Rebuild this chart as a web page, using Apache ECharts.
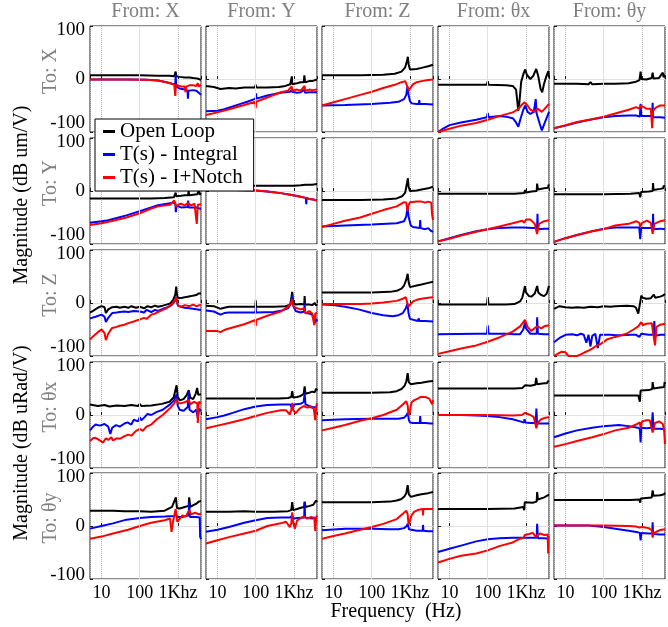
<!DOCTYPE html>
<html><head><meta charset="utf-8">
<script src="https://cdn.jsdelivr.net/npm/echarts@6/dist/echarts.min.js"></script>
<style>html,body{margin:0;padding:0;background:#fff}#c{width:668px;height:627px}</style>
</head><body><div id="c"></div><script>
// ---------- labels ----------
const inputs = ['X','Y','Z','θx','θy'];
const outputs = ['X','Y','Z','θx','θy'];
const xTickValues = [10, 100, 1000];
const xTickLabels = ['10', '100', '1Khz'];
const yTickValues = [-100, 0, 100];
const seriesNames = ['Open Loop', 'T(s) - Integral', 'T(s) - I+Notch'];

// ---------- data: [frequency Hz, magnitude dB], one list per "From" column ----------
// Output X
const openLoopToX = [
 [[5,7],[20,7],[100,7],[300,6],[600,6],[800,5],[850,6],[870,14],[900,5],[1100,4],[1500,3],[2000,3],[2500,2],[3200,1],[3800,-1],[4000,-2]],
 [[5,-13],[8,-15],[12,-19],[20,-17],[30,-18],[50,-16],[95,-16],[100,-11],[105,-16],[200,-16],[400,-15],[600,-13],[800,-10],[860,-9],[880,5],[900,-10],[1200,-8],[1500,-6],[1800,-6],[1870,7],[1950,-6],[2500,-4],[3000,-4],[4000,-1]],
 [[5,7],[50,7],[200,8],[400,10],[600,14],[750,22],[840,35],[880,42],[920,28],[1000,18],[1100,16],[1500,19],[2000,21],[3000,24],[4000,27]],
 [[5,-11],[50,-11],[95,-11],[100,-4],[105,-11],[300,-12],[450,-13],[550,-20],[630,-60],[670,-45],[750,-5],[880,12],[960,18],[1050,8],[1300,0],[1550,6],[1850,19],[2100,5],[2400,-18],[2650,-25],[2950,-10],[3400,5],[3850,15],[4000,3]],
 [[5,-9],[20,-9],[40,-10],[45,-6],[50,-10],[100,-9],[200,-9],[450,-8],[700,-5],[860,-2],[920,14],[960,0],[1300,-1],[1800,2],[1900,12],[2000,1],[2800,2],[3500,12],[3700,3],[4000,8]]
];
const integralToX = [
 [[5,-1],[50,-1],[150,-1.5],[300,-3],[500,-6],[700,-9],[850,-10],[870,8],[900,-14],[1100,-18],[1500,-20],[1780,-22],[1820,-37],[1870,-22],[2500,-21],[3000,-22],[3500,-26],[4000,-30]],
 [[5,-61],[10,-60],[15,-57],[25,-52],[40,-47],[60,-43],[100,-37],[102,-27],[104,-37],[200,-31],[450,-26],[800,-24],[880,-20],[900,-24],[1200,-26],[1500,-25],[1900,-20],[1950,-26],[2500,-25],[4000,-25]],
 [[5,-50],[20,-49],[100,-47],[300,-45],[500,-43],[700,-38],[800,-30],[860,-14],[880,-12],[920,-30],[1000,-42],[1100,-46],[1500,-47],[1700,-47],[1750,-40],[1800,-47],[2500,-47],[4000,-48]],
 [[5,-100],[7,-93],[10,-87],[20,-82],[50,-77],[95,-72],[100,-64],[105,-72],[200,-70],[300,-71],[450,-74],[550,-82],[630,-90],[720,-75],[850,-58],[960,-50],[1100,-62],[1300,-66],[1600,-62],[1800,-38],[1900,-65],[2300,-85],[2600,-97],[3000,-85],[4000,-62]],
 [[5,-93],[10,-88],[20,-82],[50,-76],[100,-72],[200,-70],[450,-69],[700,-69],[880,-71],[920,-47],[960,-70],[1300,-70],[1850,-70],[1900,-45],[1950,-72],[3000,-72],[4000,-73]]
];
const notchToX = [
 [[5,-1],[50,-1],[150,-1.5],[300,-3],[500,-6],[700,-9],[800,-11],[850,-32],[880,-12],[1000,-12],[1200,-14],[1500,-14],[1580,-25],[1650,-14],[2000,-12],[2500,-12],[3000,-13],[3300,-8],[3500,-14],[4000,-11]],
 [[5,-68],[10,-63],[20,-57],[50,-49],[98,-43],[100,-55],[102,-43],[200,-35],[450,-25],[700,-22],[870,-14],[900,-22],[1000,-22],[1200,-20],[1500,-22],[1900,-13],[1950,-22],[2500,-20],[3000,-21],[4000,-20]],
 [[5,-50],[10,-44],[20,-38],[50,-30],[100,-24],[200,-17],[400,-11],[600,-6],[750,-4],[820,-6],[880,-17],[930,-22],[1000,-18],[1200,-10],[1500,-6],[2000,-4],[3000,-2],[4000,-1]],
 [[5,-100],[10,-94],[20,-88],[50,-83],[100,-77],[200,-70],[450,-63],[600,-58],[750,-50],[900,-44],[960,-42],[1100,-50],[1300,-58],[1700,-62],[2000,-56],[2600,-62],[3200,-55],[4000,-47]],
 [[5,-93],[10,-87],[20,-81],[50,-76],[100,-71],[200,-65],[450,-58],[700,-53],[850,-56],[920,-50],[1100,-53],[1300,-56],[1700,-56],[1850,-93],[1950,-60],[2300,-54],[3000,-50],[4000,-50]]
];
// Output Y
const openLoopToY = [
 [[5,-14],[50,-14],[200,-14],[450,-13],[780,-12],[870,-3],[900,-10],[1200,-9],[1500,-8],[1850,-8],[1900,2],[1950,-8],[2500,-7],[3200,-6],[3500,1],[3700,-7],[4000,-4]],
 [[5,10],[100,10],[500,10],[1000,10],[1500,11],[2000,12],[2100,14],[2200,12],[3000,12],[4000,13]],
 [[5,-17],[50,-17],[200,-16],[450,-14],[620,-10],[750,-3],[840,16],[880,24],[920,8],[1000,0],[1100,-1],[1500,1],[2000,3],[3000,5],[4000,8]],
 [[5,-5],[100,-5],[500,-5],[900,-4],[950,2],[1000,-3],[1400,-1],[1900,0],[1960,14],[2050,3],[3000,5],[3800,6],[3900,12],[4000,10]],
 [[5,-6],[100,-6],[500,-5],[850,-4],[900,-12],[950,-2],[1500,-1],[1900,0],[1950,15],[2000,2],[3000,4],[3600,5],[3700,10],[4000,8]]
];
const integralToY = [
 [[5,-60],[10,-57],[15,-55],[25,-51],[45,-46],[100,-38],[200,-31],[300,-27],[620,-23],[850,-22],[880,-40],[910,-28],[1200,-31],[1800,-30],[1850,-18],[1900,-31],[3000,-31],[4000,-34]],
 [[5,2],[30,2],[100,1],[200,-1],[450,-4],[800,-7],[1100,-9],[1500,-11],[2050,-13],[2100,-25],[2150,-13],[2500,-15],[3200,-16],[4000,-18]],
 [[5,-67],[20,-65],[100,-63],[450,-61],[700,-57],[800,-48],[860,-30],[880,-27],[930,-50],[1050,-65],[1200,-68],[1800,-70],[1850,-55],[1900,-70],[2500,-72],[3000,-70],[3500,-75],[4000,-77]],
 [[5,-95],[10,-89],[20,-83],[50,-76],[100,-72],[200,-70],[450,-69],[850,-69],[900,-66],[950,-72],[1500,-70],[1950,-70],[2000,-43],[2050,-72],[3000,-71],[4000,-71]],
 [[5,-96],[10,-89],[20,-83],[50,-76],[100,-71],[200,-69],[450,-69],[850,-69],[900,-91],[950,-70],[1500,-70],[1900,-70],[1950,-43],[2000,-72],[3000,-71],[4000,-72]]
];
const notchToY = [
 [[5,-64],[10,-61],[20,-56],[45,-50],[100,-42],[200,-33],[300,-29],[620,-26],[800,-18],[860,-18],[900,-30],[1000,-26],[1200,-24],[1500,-27],[1800,-23],[2200,-27],[2700,-24],[3100,-62],[3300,-26],[4000,-25]],
 [[5,2],[30,2],[100,1],[200,-1],[450,-4],[800,-7],[1100,-9],[1500,-11],[2000,-13],[2500,-15],[3200,-16],[4000,-18]],
 [[5,-68],[10,-62],[20,-56],[50,-50],[100,-43],[200,-36],[450,-29],[700,-21],[800,-22],[860,-38],[900,-28],[1000,-21],[1500,-20],[2000,-20],[2500,-22],[3000,-20],[3600,-22],[3800,-45],[4000,-55]],
 [[5,-95],[10,-90],[20,-84],[50,-77],[100,-72],[200,-67],[450,-61],[800,-56],[900,-60],[1000,-54],[1300,-54],[1700,-62],[1950,-81],[2200,-62],[3000,-57],[4000,-55]],
 [[5,-96],[10,-89],[20,-83],[50,-76],[100,-72],[200,-65],[450,-62],[700,-57],[850,-60],[900,-68],[1000,-60],[1350,-56],[1700,-60],[1900,-81],[2100,-62],[3000,-57],[4000,-55]]
];
// Output Z
const openLoopToZ = [
 [[5,-18],[6,-15],[8,-9],[10,-6],[12,-8],[13,-19],[15,-12],[19,-8],[25,-7],[30,-9],[40,-7],[50,-9],[60,-6],[80,-9],[100,-7],[130,-10],[160,-6],[200,-8],[250,-5],[300,-7],[400,-5],[500,-3],[620,-1],[750,6],[850,16],[900,31],[940,16],[1000,9],[1100,8],[1300,10],[1500,11],[1800,12],[2200,13],[2600,14],[3000,15],[3500,18],[4000,18]],
 [[5,-5],[8,-6],[12,-11],[15,-9],[20,-7],[50,-7],[98,-7],[100,5],[102,-7],[300,-7],[600,-6],[800,-3],[900,21],[950,2],[1100,-3],[1500,-2],[1850,-3],[1900,13],[1950,-3],[2500,-3],[3000,-4],[3500,0],[3800,-5],[4000,-2]],
 [[5,20],[100,20],[300,21],[450,23],[600,27],[700,33],[800,44],[870,55],[930,38],[1000,30],[1100,29],[1500,33],[2000,35],[3000,38],[4000,40]],
 [[5,-3],[95,-3],[100,11],[105,-3],[300,-3],[500,-2],[700,3],[800,10],[880,22],[940,32],[1000,20],[1200,13],[1380,12],[1700,18],[1960,32],[2100,20],[2500,15],[2980,13],[3500,18],[4000,32]],
 [[5,-11],[7,-6],[10,-8],[15,-9],[20,-8],[30,-9],[45,-7],[70,-8],[100,-6],[150,-7],[200,-6],[400,-5],[600,-6],[700,-9],[800,-20],[850,-18],[960,14],[1050,10],[1300,8],[1700,9],[2050,16],[2200,10],[3000,12],[3500,14],[4000,17]]
];
const integralToZ = [
 [[5,-29],[7,-26],[10,-22],[12,-26],[13,-36],[15,-28],[19,-19],[25,-18],[30,-17],[40,-16],[50,-17],[70,-15],[100,-16],[130,-18],[150,-13],[200,-17],[250,-13],[300,-15],[400,-11],[500,-9],[620,-6],[750,-1],[850,5],[900,12],[940,3],[1000,-5],[1200,-7],[1500,-9],[2000,-10],[3000,-12],[4000,-13]],
 [[5,-14],[8,-16],[12,-22],[15,-19],[20,-18],[50,-18],[98,-18],[100,-8],[102,-18],[300,-17],[500,-14],[700,-10],[850,0],[900,15],[950,-5],[1100,-15],[1500,-18],[1850,-16],[1900,0],[1950,-18],[2500,-20],[3000,-22],[3500,-38],[3800,-30],[4000,-35]],
 [[5,-3],[10,-4],[20,-7],[45,-12],[100,-19],[200,-23],[350,-25],[500,-23],[650,-19],[780,-10],[860,-1],[920,-20],[1000,-30],[1100,-33],[1600,-34],[1700,-29],[1750,-34],[2500,-34],[4000,-35]],
 [[5,-59],[50,-58],[95,-58],[100,-42],[105,-58],[300,-58],[500,-59],[700,-59],[850,-50],[940,-37],[1000,-48],[1300,-58],[1900,-58],[1960,-27],[2050,-58],[3000,-59],[4000,-59]],
 [[5,-74],[7,-66],[10,-60],[15,-59],[20,-61],[25,-58],[30,-60],[35,-75],[40,-60],[45,-82],[50,-62],[60,-58],[70,-85],[80,-60],[100,-60],[150,-60],[200,-61],[300,-61],[500,-60],[700,-60],[850,-64],[900,-66],[960,-58],[1500,-60],[2000,-60],[2100,-34],[2200,-62],[3000,-60],[4000,-60]]
];
const notchToZ = [
 [[5,-69],[6,-63],[8,-55],[10,-50],[12,-57],[13,-70],[15,-58],[19,-47],[25,-45],[30,-43],[40,-41],[50,-38],[70,-35],[100,-31],[130,-28],[150,-30],[200,-22],[250,-20],[300,-17],[400,-13],[500,-10],[620,-5],[750,1],[850,6],[900,11],[940,4],[1000,-5],[1200,-7],[1500,-4],[2000,-6],[2500,-3],[3000,-6],[4000,-3]],
 [[5,-53],[10,-53],[12,-55],[15,-51],[20,-48],[50,-40],[98,-32],[100,-44],[102,-32],[200,-24],[450,-16],[700,-7],[850,2],[900,7],[950,-5],[1100,-9],[1500,-12],[1850,-10],[2000,-20],[2500,-15],[3000,-20],[3400,-42],[3600,-20],[4000,-18]],
 [[5,-2],[50,-2],[100,-1],[200,1],[450,4],[650,8],[780,11],[840,10],[900,-7],[950,-9],[1050,-2],[1200,3],[1500,6],[2000,8],[3000,10],[4000,11]],
 [[5,-96],[10,-91],[20,-86],[50,-80],[100,-73],[200,-65],[450,-54],[700,-44],[850,-36],[940,-32],[1100,-45],[1380,-53],[1700,-47],[2000,-44],[2500,-48],[3000,-44],[4000,-42]],
 [[5,-100],[6.5,-95],[8,-92],[10,-93],[12,-100],[20,-100],[25,-97],[28,-100],[32,-93],[40,-90],[50,-86],[60,-82],[80,-78],[120,-69],[200,-64],[390,-58],[600,-50],[800,-44],[960,-36],[1050,-42],[1300,-39],[1800,-38],[2190,-80],[2400,-45],[3000,-41],[4000,-39]]
];
// Output θx
const openLoopToTx = [
 [[5,20],[8,17],[12,19],[16,16],[25,18],[40,17],[60,19],[90,17],[100,21],[110,17],[200,18],[380,21],[600,25],[770,33],[920,56],[980,35],[1100,28],[1400,30],[1700,38],[1910,47],[2100,33],[2500,30],[2900,40],[3170,51],[3400,38],[4000,39]],
 [[5,31],[100,31],[400,31],[700,32],[850,34],[900,45],[950,33],[1200,34],[1500,36],[1800,40],[1900,54],[2000,40],[2500,42],[3000,44],[3500,43],[3800,50],[4000,46]],
 [[5,42],[100,42],[300,43],[450,45],[600,49],[720,55],[800,63],[870,79],[930,62],[1050,58],[1500,60],[2000,61],[3000,63],[4000,64]],
 [[5,50],[100,50],[500,50],[800,51],[900,52],[950,56],[1000,53],[1300,55],[1750,57],[1850,70],[1950,58],[3000,60],[3500,60],[3800,64],[4000,63]],
 [[5,37],[100,37],[500,37],[800,37],[880,25],[920,46],[1000,44],[1500,47],[1850,49],[1900,62],[2000,50],[3000,52],[3800,53],[3900,62],[4000,58]]
];
const integralToTx = [
 [[5,-29],[6,-22],[7,-18],[9,-20],[12,-17],[15,-22],[17,-36],[19,-24],[24,-19],[30,-22],[40,-16],[48,-14],[60,-18],[70,-9],[90,-12],[100,-4],[110,-10],[130,-5],[160,2],[200,0],[280,6],[400,10],[620,20],[800,28],[920,39],[980,18],[1100,10],[1400,8],[1800,15],[1910,45],[2000,10],[2500,5],[3000,10],[3300,-5],[3600,12],[4000,7]],
 [[5,-8],[10,-4],[15,-1],[25,4],[50,11],[100,16],[200,19],[450,20],[800,20],[880,17],[920,10],[1000,20],[1500,21],[1800,25],[1900,42],[2000,20],[2500,17],[3000,15],[4000,14]],
 [[5,-10],[20,-8],[100,-7],[300,-7],[500,-7],[700,-5],[800,-1],[880,4],[940,-10],[1000,-14],[1200,-15],[1800,-15],[1850,-2],[1900,-15],[2500,-15],[3500,-16],[4000,-16]],
 [[5,0],[20,0],[50,-1],[100,-2],[200,-4],[450,-8],[780,-13],[880,-14],[920,-8],[960,-14],[1300,-15],[1800,-15],[1870,12],[1950,-16],[3000,-16],[4000,-16]],
 [[5,-42],[10,-35],[20,-29],[50,-24],[100,-21],[250,-19],[450,-21],[780,-24],[880,-26],[920,-52],[960,-24],[1300,-25],[1800,-24],[1900,5],[2000,-26],[3000,-26],[4000,-27]]
];
const notchToTx = [
 [[5,-49],[6,-44],[7,-43],[9,-48],[11,-52],[13,-44],[15,-47],[18,-42],[20,-48],[25,-44],[30,-45],[40,-40],[50,-37],[60,-39],[80,-30],[100,-26],[120,-30],[150,-22],[200,-18],[280,-8],[400,0],[620,13],[800,22],[920,30],[1000,22],[1200,22],[1600,25],[1910,28],[2100,20],[2600,25],[3200,22],[3300,-15],[3500,25],[4000,22]],
 [[5,-25],[10,-20],[20,-15],[50,-8],[100,-2],[200,4],[450,9],[620,9],[780,1],[850,10],[900,23],[950,10],[1100,3],[1400,12],[1800,17],[2200,14],[2700,15],[3300,12],[3600,-10],[3800,15],[4000,22]],
 [[5,-29],[10,-24],[20,-19],[50,-11],[100,-6],[200,0],[450,10],[650,20],[800,26],[870,18],[920,-1],[980,5],[1100,24],[1300,28],[1600,31],[1900,34],[2500,34],[3200,31],[3600,32],[3800,20],[4000,28]],
 [[5,0],[100,0],[450,-1],[780,0],[850,2],[940,4],[1000,1],[1300,0],[1600,-4],[1870,-25],[2000,-15],[2500,-8],[3200,-5],[4000,-4]],
 [[5,-60],[10,-55],[20,-49],[50,-42],[100,-36],[200,-29],[450,-24],[700,-18],[880,-14],[920,-25],[1000,-12],[1300,-10],[1600,-10],[1900,-33],[2200,-15],[2800,-12],[3500,-17],[3800,-30],[4000,-55]]
];
// Output θy
const openLoopToTy = [
 [[5,29],[10,29],[20,29],[40,28],[70,28],[100,28],[200,27],[450,29],[700,36],[880,54],[940,34],[1100,33],[1500,36],[1900,38],[1960,54],[2100,36],[2600,40],[3000,42],[3500,46],[4000,47]],
 [[5,27],[20,27],[50,28],[100,27],[300,27],[700,28],[850,30],[900,45],[950,30],[1200,32],[1600,35],[1850,36],[1900,46],[2000,36],[2600,38],[3200,40],[3600,37],[3800,48],[4000,45]],
 [[5,45],[100,45],[300,46],[450,48],[600,51],[720,56],[800,62],[870,77],[930,60],[1050,55],[1500,58],[2000,60],[3000,62],[4000,64]],
 [[5,32],[100,32],[500,33],[850,36],[900,30],[930,45],[1000,42],[1500,44],[1900,46],[1960,64],[2050,50],[3000,54],[4000,59]],
 [[5,49],[100,49],[500,49],[850,50],[900,44],[930,52],[1000,51],[1800,54],[1900,67],[2000,57],[3000,58],[3800,60],[4000,63]]
];
const integralToTy = [
 [[5,-5],[10,0],[20,5],[45,12],[100,15],[200,17],[450,18],[800,19],[880,23],[950,17],[1300,17],[1900,20],[1960,45],[2050,17],[3000,17],[3700,16],[3800,-20],[4000,-25]],
 [[5,-11],[10,-7],[20,-2],[50,6],[100,11],[200,15],[450,16],[800,16],[900,20],[950,14],[1300,15],[1850,16],[1900,45],[1950,16],[3000,14],[3500,16],[3700,10],[4000,12]],
 [[5,-8],[20,-5],[100,-5],[300,-6],[500,-6],[700,-4],[800,-1],[880,4],[940,-6],[1000,-8],[1500,-9],[2150,-9],[2190,2],[2250,-9],[3000,-10],[4000,-10]],
 [[5,-49],[10,-43],[20,-37],[50,-29],[100,-25],[200,-23],[450,-22],[800,-22],[900,-24],[940,-22],[1500,-22],[1900,-22],[1960,4],[2050,-23],[3000,-23],[4000,-24]],
 [[5,1],[40,1],[100,-2],[200,-5],[450,-9],[780,-12],[880,-13],[920,-27],[960,-13],[1500,-14],[1850,-14],[1900,7],[1950,-15],[3000,-16],[4000,-16]]
];
const notchToTy = [
 [[5,-24],[10,-20],[20,-14],[50,-7],[100,0],[200,6],[450,11],[620,14],[680,-11],[750,10],[870,32],[960,8],[1050,10],[1300,20],[1600,18],[1960,30],[2200,22],[2800,25],[3500,22],[4000,23]],
 [[5,-33],[10,-27],[20,-21],[50,-14],[100,-9],[200,0],[450,5],[620,8],[780,-2],[850,5],[900,26],[950,8],[1050,-5],[1200,10],[1500,15],[1800,18],[2200,14],[2800,17],[3400,15],[3600,-10],[3800,15],[4000,20]],
 [[5,-24],[10,-19],[20,-14],[50,-7],[100,-2],[200,4],[450,13],[650,23],[800,29],[870,22],[920,2],[980,5],[1100,20],[1300,27],[1600,30],[2150,32],[2190,20],[2250,32],[2500,33],[3500,32],[4000,32]],
 [[5,-69],[10,-62],[20,-56],[50,-52],[100,-46],[200,-38],[450,-31],[700,-24],[870,-22],[930,-17],[1000,-20],[1200,-15],[1500,-13],[1800,-20],[1960,-22],[2300,-14],[3000,-17],[3700,-16],[3800,-52],[3900,-20],[4000,-22]],
 [[5,1],[100,1],[450,0],[700,-1],[850,-3],[940,-4],[1000,-2],[1500,-4],[1800,-8],[1900,-22],[2000,-14],[2500,-10],[3200,-7],[4000,-6]]
];

// ---------- assemble ----------
const openLoopRows = [openLoopToX, openLoopToY, openLoopToZ, openLoopToTx, openLoopToTy];
const integralRows = [integralToX, integralToY, integralToZ, integralToTx, integralToTy];
const notchRows = [notchToX, notchToY, notchToZ, notchToTx, notchToTy];
const colors = ['#000000', '#0000ff', '#ff0000'];

const colLeft = [90, 206, 322, 438, 554];
const rowTop = [26, 138, 250, 362, 473];
const panelW = 111, panelH = 106;
const serif = '"Liberation Serif", "Times New Roman", serif';

const grids = [], xAxes = [], yAxes = [], series = [], graphics = [];
for (let r = 0; r < 5; r++) {
  for (let c = 0; c < 5; c++) {
    const i = r * 5 + c;
    grids.push({left: colLeft[c], top: rowTop[r], width: panelW, height: panelH,
      show: true, borderColor: '#1a1a1a', borderWidth: 1, backgroundColor: '#fff'});
    xAxes.push({type: 'log', logBase: 10, min: 5, max: 4000, gridIndex: i,
      axisLine: {show: false},
      axisTick: {show: true, inside: true, length: 3, lineStyle: {color: '#1a1a1a'}},
      axisLabel: {show: r === 4, showMinLabel: false, showMaxLabel: false, margin: 5,
        fontFamily: serif, fontSize: 18, color: '#000',
        formatter: function (v) {
          for (let k = 0; k < xTickValues.length; k++) {
            if (Math.abs(Math.log10(v) - Math.log10(xTickValues[k])) < 1e-6) return xTickLabels[k];
          }
          return '';
        }},
      splitLine: {show: true, lineStyle: {type: 'dotted', color: '#b8b8b8', width: 1}}
    });
    yAxes.push({type: 'value', min: yTickValues[0], max: yTickValues[2], interval: 100, gridIndex: i,
      axisLine: {show: false},
      axisTick: {show: true, inside: true, length: 3, lineStyle: {color: '#1a1a1a'}},
      axisLabel: {show: c === 0, margin: 5, fontFamily: serif, fontSize: 19, color: '#000',
        formatter: function (v) {
          if (v === 100) return '{hi|100}';
          if (v === -100) return r === 4 ? '{lo5|-100}' : '{lo|-100}';
          return String(v);
        },
        rich: {
          hi: {fontFamily: serif, fontSize: 19, color: '#000', padding: [8, 0, 0, 0]},
          lo: {fontFamily: serif, fontSize: 19, color: '#000', padding: [0, 0, 18, 0]},
          lo5: {fontFamily: serif, fontSize: 19, color: '#000', padding: [0, 0, 8, 0]}
        }},
      splitLine: {show: true, lineStyle: {color: '#e0e0e0', width: 1}}
    });
    const sets = [openLoopRows[r][c], integralRows[r][c], notchRows[r][c]];
    for (let s = 0; s < 3; s++) {
      const ser = {type: 'line', name: seriesNames[s], xAxisIndex: i, yAxisIndex: i,
        data: sets[s], symbol: 'none', showSymbol: false, clip: true, animation: false,
        lineStyle: {width: 2, color: colors[s]}, itemStyle: {color: colors[s]}, z: 3};
      if (s === 0) {
        ser.markLine = {silent: true, symbol: ['none', 'none'], label: {show: false}, animation: false,
          lineStyle: {color: '#e0e0e0', type: 'solid', width: 1}, data: [{xAxis: 100}]};
      }
      series.push(ser);
    }
  }
}

for (let c = 0; c < 5; c++) {
  graphics.push({type: 'text', x: colLeft[c] + panelW / 2, y: 12,
    style: {text: 'From: ' + inputs[c], font: '20px ' + serif, fill: '#808080', textAlign: 'center', textVerticalAlign: 'middle'}});
}
for (let r = 0; r < 5; r++) {
  graphics.push({type: 'text', x: 51, y: rowTop[r] + panelH / 2 - 8, rotation: Math.PI / 2,
    style: {text: 'To: ' + outputs[r], font: '20px ' + serif, fill: '#808080', textAlign: 'center', textVerticalAlign: 'middle'}});
}
graphics.push({type: 'text', x: 22, y: 195, rotation: Math.PI / 2,
  style: {text: 'Magnitude (dB um/V)', font: '20px ' + serif, fill: '#000', textAlign: 'center', textVerticalAlign: 'middle'}});
graphics.push({type: 'text', x: 22, y: 443, rotation: Math.PI / 2,
  style: {text: 'Magnitude (dB uRad/V)', font: '20px ' + serif, fill: '#000', textAlign: 'center', textVerticalAlign: 'middle'}});
graphics.push({type: 'text', x: 396, y: 612,
  style: {text: 'Frequency  (Hz)', font: '20px ' + serif, fill: '#000', textAlign: 'center', textVerticalAlign: 'middle'}});

const chart = echarts.init(document.getElementById('c'), null, {renderer: 'canvas'});
chart.setOption({
  animation: false,
  backgroundColor: '#fff',
  grid: grids, xAxis: xAxes, yAxis: yAxes, series: series,
  legend: {data: seriesNames, orient: 'vertical', left: 95, top: 119, selectedMode: false,
    icon: 'rect', itemWidth: 12, itemHeight: 3, itemGap: 2,
    padding: [2, 11, 3, 8], backgroundColor: '#fff', borderColor: '#000', borderWidth: 1, z: 10,
    textStyle: {fontFamily: serif, fontSize: 21, color: '#000'}},
  graphic: graphics
});
</script></body></html>
